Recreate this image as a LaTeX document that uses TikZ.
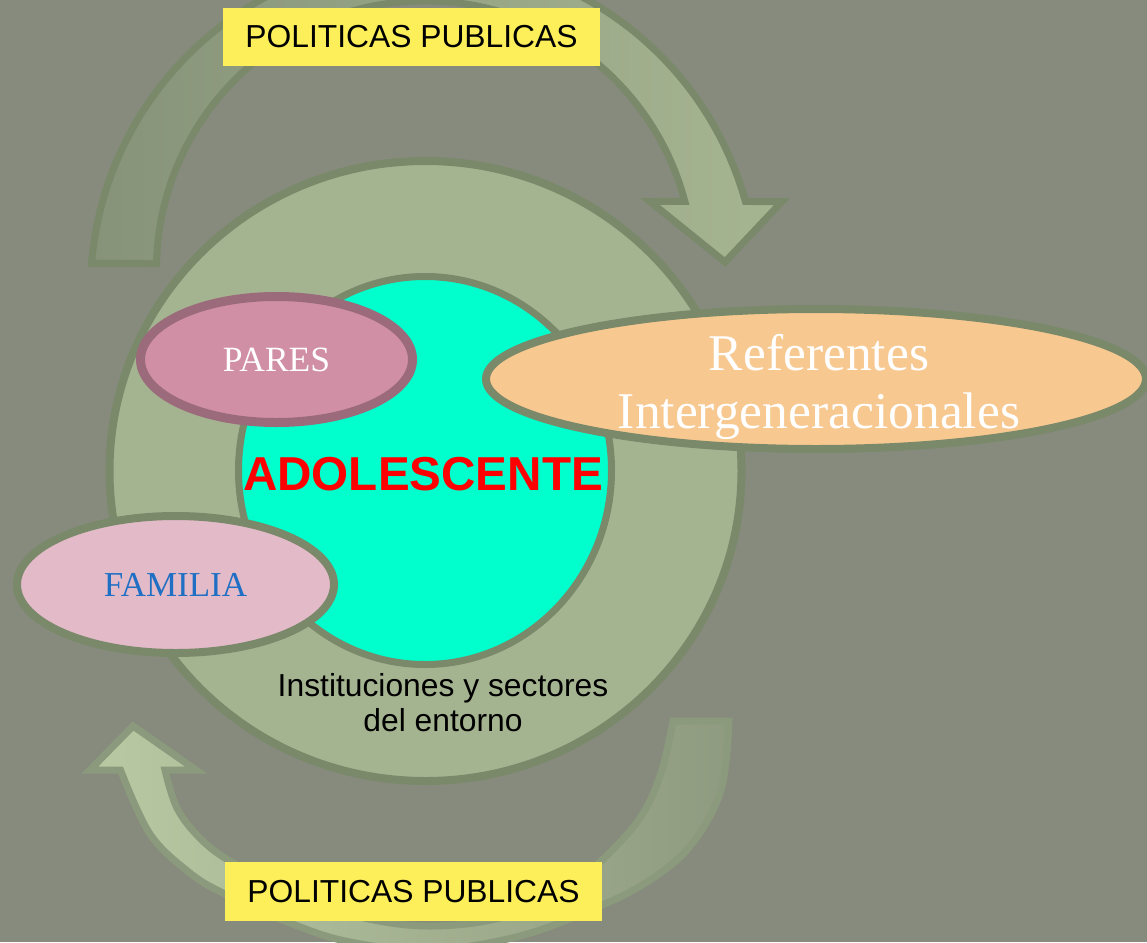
\documentclass[tikz,border=0pt]{standalone}
\usepackage{fontspec}
\setmainfont{Liberation Serif}
\newfontfamily\arialfont{Liberation Sans}
\usetikzlibrary{shapes.geometric}
\definecolor{bgc}{RGB}{135,139,125}
\definecolor{ringfill}{RGB}{165,180,144}
\definecolor{ringedge}{RGB}{121,137,106}
\definecolor{adolfill}{RGB}{0,255,204}
\definecolor{paresfill}{RGB}{208,143,165}
\definecolor{paresedge}{RGB}{155,107,123}
\definecolor{famfill}{RGB}{227,186,200}
\definecolor{famtext}{RGB}{31,111,196}
\definecolor{reffill}{RGB}{247,200,144}
\definecolor{ppyellow}{RGB}{252,239,90}
\definecolor{toparrowL}{RGB}{134,147,121}
\definecolor{toparrowR}{RGB}{166,181,145}
\definecolor{botarrowL}{RGB}{184,201,163}
\definecolor{botarrowR}{RGB}{143,155,128}
\definecolor{botedge}{RGB}{139,154,124}
\tikzset{
  shapering/.style={ellipse, draw=ringedge, line width=8pt, inner sep=0pt},
  ppbox/.style={fill=ppyellow, minimum width=377pt, minimum height=58pt, inner sep=0pt,
    font=\arialfont\fontsize{31.8}{36}\selectfont, text=black},
  toparrow/.style={draw=ringedge, line width=7pt, line join=miter, left color=toparrowL, right color=toparrowR},
  botarrow/.style={draw=botedge, line width=7pt, line join=miter, left color=botarrowL, right color=botarrowR}
}
\begin{document}
\begin{tikzpicture}[x=1pt,y=-1pt]
\useasboundingbox (0,0) rectangle (1147,942);
\clip (0,0) rectangle (1147,942);
\fill[bgc] (0,0) rectangle (1147,942);

% top curved arrow
\draw[toparrow]
  plot[domain=-175.32:-15.51, samples=80, variable=\t] ({424+333.6*cos(\t)},{290.7+333.6*sin(\t)})
  -- (782,201.5) -- (725,262) -- (650,201.5)
  -- plot[domain=-14.67:-178.72, samples=80, variable=\t] ({425+268.6*cos(\t)},{269.5+268.6*sin(\t)})
  -- cycle;

% bottom curved arrow
\draw[botarrow]
  plot[smooth, tension=0.6] coordinates {(729,721) (721,790) (691,845) (650,880) (600,906) (520,936) (430,950) (350,942) (290,923) (225,894) (190,873) (150,834) (120.5,770)}
  -- (90,770) -- (133,726) -- (196,770)
  -- plot[smooth, tension=0.6] coordinates {(165,770) (178,810) (205,843) (240,867) (300,897) (364,918) (430,926) (500,918) (560,893) (601,861) (640,818) (661,773) (673,721)}
  -- cycle;

% rings
\node[shapering, fill=ringfill, minimum width=632pt, minimum height=620pt] (entorno) at (425.5,471) {};
\node[shapering, fill=adolfill, line width=7pt, minimum width=373pt, minimum height=388pt] (adol) at (425,470.5) {};
\node[font=\arialfont\bfseries\fontsize{47.6}{52}\selectfont, text=red, inner sep=0pt] (adoltext) at (423,474) {ADOLESCENTE};

\node[shapering, draw=paresedge, line width=9pt, fill=paresfill, minimum width=272pt, minimum height=126pt,
  font=\fontsize{35.5}{40}\selectfont, text=white] (pares) at (276.5,359.5) {PARES};

\node[shapering, fill=famfill, minimum width=317pt, minimum height=137pt,
  font=\fontsize{35}{40}\selectfont, text=famtext] (familia) at (175.5,584.5) {FAMILIA};

\node[shapering, fill=reffill, minimum width=660pt, minimum height=140pt] (referentes) at (816,379) {};
\node[font=\fontsize{51.5}{58}\selectfont, text=white, align=center, inner sep=0pt] (reftext) at (819,387) {Referentes\\Intergeneracionales};

\node[font=\arialfont\fontsize{31.8}{35}\selectfont, text=black, align=center, inner sep=0pt] (inst) at (443,703) {Instituciones y sectores\\del entorno};

% policy boxes
\node[ppbox] (pptop) at (411.5,37) {POLITICAS PUBLICAS};
\node[ppbox, minimum height=59pt] (ppbot) at (413.5,891.5) {POLITICAS PUBLICAS};
\end{tikzpicture}
\end{document}
